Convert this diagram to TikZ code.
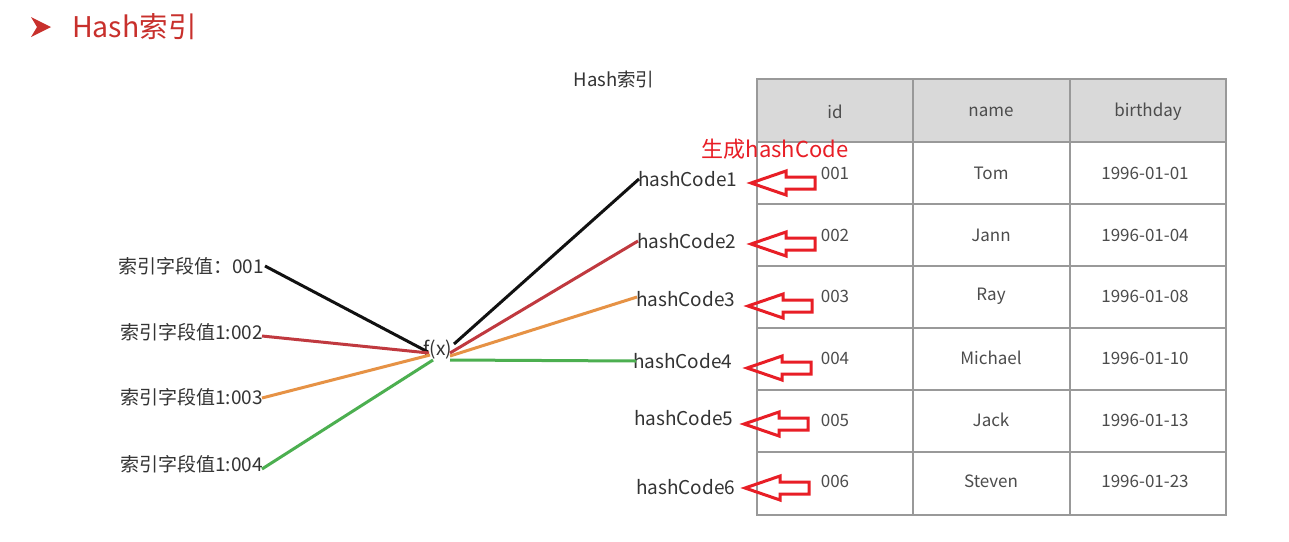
\documentclass[tikz,border=0pt]{standalone}
\usepackage{fontspec}
\setmainfont{Noto Sans CJK SC}
\begin{document}
\begin{tikzpicture}[x=1pt,y=-1pt,
  lbl/.style={font=\fontsize{19}{22}\selectfont, text=black!80, inner sep=0pt},
  cell/.style={font=\fontsize{17}{20}\selectfont, text=black!70, inner sep=0pt},
  conn/.style={line width=3pt},
  grid/.style={draw=black!40, line width=1.2pt},
  harrow/.pic={\draw[arrowred, line width=3pt, line join=miter]
     (0,0) -- (35,-12) -- (35,-6) -- (64,-6) -- (64,6) -- (35,6) -- (35,12) -- cycle;}
]
\definecolor{cblack}{HTML}{111111}
\definecolor{cred}{HTML}{C0393F}
\definecolor{corange}{HTML}{E69245}
\definecolor{cgreen}{HTML}{4CAF50}
\definecolor{titlered}{HTML}{C8302C}
\definecolor{arrowred}{HTML}{E81E26}
\useasboundingbox (0,0) rectangle (1289,541);
\fill[white] (0,0) rectangle (1289,541);
% title
\fill[titlered] (31,17) -- (51,27) -- (31,37) -- (37,27) -- cycle;
\node[anchor=west, inner sep=0pt, text=titlered, font=\fontsize{28.5}{32}\selectfont] (title) at (72,27) {Hash索引};
\node[anchor=center, inner sep=0pt, text=black!80, font=\fontsize{18.5}{22}\selectfont] (sub) at (614,79) {Hash索引};
% table
\fill[black!15] (757,79) rectangle (1226,142);
\draw[grid] (757,79) rectangle (1226,515);
\foreach \yy in {142,204,266,328,390,452} \draw[grid] (757,\yy) -- (1226,\yy);
\draw[grid] (913,79) -- (913,515);
\draw[grid] (1070,79) -- (1070,515);
\node[cell] (hid) at (835,112) {id};
\node[cell] (hname) at (991,112) {name};
\node[cell] (hbd) at (1148,112) {birthday};
\foreach \i/\yy/\nm/\bd in {1/173/Tom/1996-01-01, 2/235/Jann/1996-01-04, 3/296/Ray/1996-01-08, 4/358/Michael/1996-01-10, 5/420/Jack/1996-01-13, 6/481/Steven/1996-01-23}{
  \node[cell] (id\i) at (835,\yy) {00\i};
  \node[cell] (nm\i) at (991,\yy) {\nm};
  \node[cell] (bd\i) at (1145,\yy) {\bd};
}
% generate hashCode label
\node[inner sep=0pt, text=arrowred, font=\fontsize{22}{26}\selectfont] (gen) at (775,149) {生成hashCode};
% left labels
\node[lbl, anchor=east] (k1) at (264,266) {索引字段值：001};
\node[lbl, anchor=east] (k2) at (263,332) {索引字段值1:002};
\node[lbl, anchor=east] (k3) at (263,397) {索引字段值1:003};
\node[lbl, anchor=east] (k4) at (263,464) {索引字段值1:004};
% f(x)
\node[lbl] (fx) at (438,350) {f(x)};
% hash codes
\node[lbl, anchor=west] (h1) at (638,179) {hashCode1};
\node[lbl, anchor=west] (h2) at (637,241) {hashCode2};
\node[lbl, anchor=west] (h3) at (636,299) {hashCode3};
\node[lbl, anchor=west] (h4) at (633,361) {hashCode4};
\node[lbl, anchor=west] (h5) at (634,418) {hashCode5};
\node[lbl, anchor=west] (h6) at (636,487) {hashCode6};
% connector endpoints
\coordinate (a1) at (265,266);
\coordinate (a2) at (262,336);
\coordinate (a3) at (262,398);
\coordinate (a4) at (262,469);
\coordinate (fi1) at (428,352);
\coordinate (fi2) at (429,353);
\coordinate (fi3) at (430,355);
\coordinate (fi4) at (433,360);
\coordinate (fo1) at (454,344);
\coordinate (fo2) at (450,353);
\coordinate (fo3) at (450,356);
\coordinate (fo4) at (450,360);
\coordinate (b1) at (639,179);
\coordinate (b2) at (638,241);
\coordinate (b3) at (637,297);
\coordinate (b4) at (636,361);
\draw[conn, cblack] (a1) -- (fi1);
\draw[conn, cred] (a2) -- (fi2);
\draw[conn, corange] (a3) -- (fi3);
\draw[conn, cgreen] (a4) -- (fi4);
\draw[conn, cblack] (fo1) -- (b1);
\draw[conn, cred] (fo2) -- (b2);
\draw[conn, corange] (fo3) -- (b3);
\draw[conn, cgreen] (fo4) -- (b4);
% block arrows
\pic at (751,183) {harrow};
\pic at (751,244) {harrow};
\pic at (748,306) {harrow};
\pic at (747,368) {harrow};
\pic at (744,424) {harrow};
\pic at (745,488) {harrow};
\end{tikzpicture}
\end{document}
